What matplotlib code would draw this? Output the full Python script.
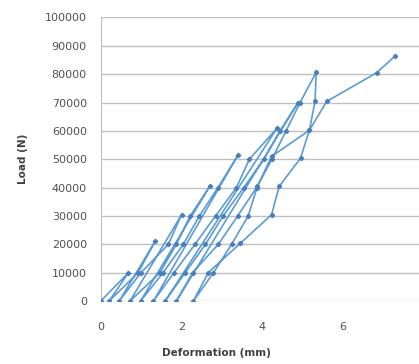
import numpy as np
import matplotlib
matplotlib.use("Agg")
from matplotlib import pyplot as plt

# load cycles (deformation in mm, load in N)
cycle_defs = [
    [0, 0.69, 0.21],
    [0.93, 1.35, 0.46],
    [1.00, 1.68, 2.01, 0.73],
    [1.47, 1.88, 2.22, 2.71, 0.99],
    [1.55, 2.05, 2.45, 2.91, 3.41, 1.31],
    [1.82, 2.34, 2.85, 3.37, 3.69, 4.38, 1.60],
    [2.10, 2.60, 3.04, 3.55, 4.05, 4.45, 4.90, 1.88],
    [2.28, 2.92, 3.40, 3.87, 4.25, 4.60, 4.95, 5.35, 5.32, 5.18, 4.96, 4.43, 4.24, 3.46, 2.67, 2.30],
    [2.80, 3.25, 3.66, 3.89, 4.24, 5.18, 5.61, 6.85, 7.30],
]
cycle_loads = [
    [0, 10000, 0],
    [10000, 21000, 0],
    [10000, 20000, 30500, 0],
    [10000, 20000, 30000, 40500, 0],
    [10000, 20000, 30000, 40000, 51500, 0],
    [10000, 20000, 30000, 40000, 50000, 61000, 0],
    [10000, 20000, 30000, 40000, 50000, 60000, 70000, 0],
    [10000, 20000, 30000, 40000, 50000, 60000, 70000, 80700, 70400, 60200, 50400, 40400, 30400, 20300, 10000, 0],
    [10000, 20000, 30000, 40400, 51000, 60200, 70400, 80500, 86300],
]

deform = np.concatenate(cycle_defs)
load = np.concatenate(cycle_loads)

fig = plt.figure(figsize=(4.19, 3.64), dpi=100)
ax = fig.add_axes([0.2403, 0.173, 1.0095 - 0.2403, 0.779])

ax.plot(deform, load, color="#5B9BD5", lw=1.2, marker="D", ms=2.2,
        mfc="#4A7EBB", mec="#4A7EBB", zorder=3)

ax.set_xlim(0, 8)
ax.set_ylim(0, 100000)
ax.set_xticks([0, 2, 4, 6, 8])
ax.set_yticks(np.arange(0, 100001, 10000))
ax.grid(axis="y", color="#BFBFBF", lw=1.0)
ax.set_axisbelow(True)
for s in ["top", "right", "bottom"]:
    ax.spines[s].set_visible(False)
ax.spines["left"].set_color("#BFBFBF")
ax.tick_params(length=0, labelsize=8, labelcolor="#505050")
ax.tick_params(axis="x", pad=15)
ax.tick_params(axis="y", pad=10)

ax.set_xlabel("Deformation (mm)", fontsize=7.5, fontweight="bold", color="#404040")
ax.set_ylabel("Load (N)", fontsize=7.5, fontweight="bold", color="#404040")
ax.xaxis.set_label_coords(0.36, -0.165)
ax.yaxis.set_label_coords(-0.225, 0.5)

plt.savefig("out.png", dpi=100)
